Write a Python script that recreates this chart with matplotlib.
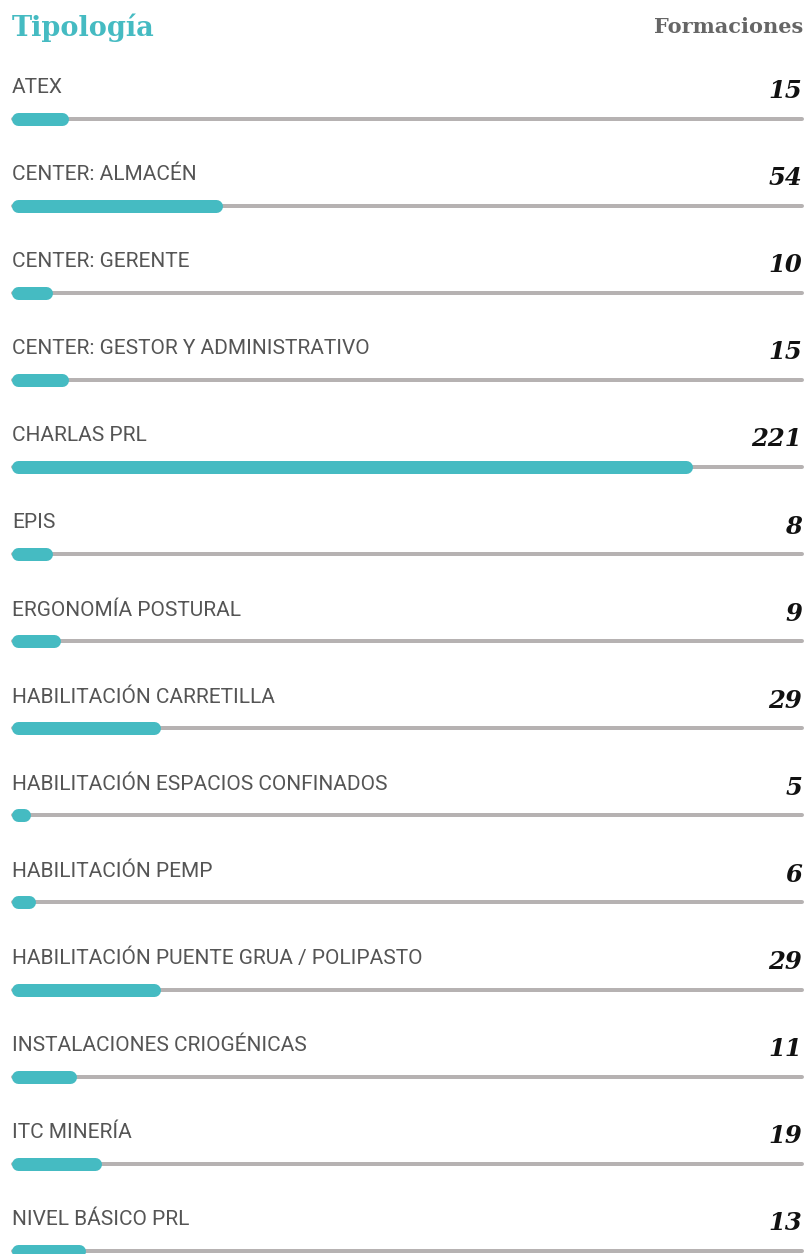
import matplotlib
matplotlib.use("Agg")
from matplotlib import pyplot as plt

# Data
categories = [
    "ATEX",
    "CENTER: ALMACÉN",
    "CENTER: GERENTE",
    "CENTER: GESTOR Y ADMINISTRATIVO",
    "CHARLAS PRL",
    "EPIS",
    "ERGONOMÍA POSTURAL",
    "HABILITACIÓN CARRETILLA",
    "HABILITACIÓN ESPACIOS CONFINADOS",
    "HABILITACIÓN PEMP",
    "HABILITACIÓN PUENTE GRUA / POLIPASTO",
    "INSTALACIONES CRIOGÉNICAS",
    "ITC MINERÍA",
    "NIVEL BÁSICO PRL",
]
formaciones = [15, 54, 10, 15, 221, 8, 9, 29, 5, 6, 29, 11, 19, 13]
# bar length as % of the track (the bars are not linear in the counts)
bar_pct = [7.2, 26.7, 5.2, 7.2, 86.0, 5.2, 6.3, 18.9, 2.5, 3.1, 18.9, 8.3, 11.4, 9.4]

teal = "#45BBC2"
track = "#B6B2B2"
label_font = ["Roboto", "DejaVu Sans"]
serif_font = ["DejaVu Serif"]

W, H = 810, 1254
fig = plt.figure(figsize=(W / 100, H / 100), dpi=100)
fig.patch.set_facecolor("white")

# axes spanning the track width, full figure height
left_px, right_px = 11, 804
row0_px, pitch_px = 118.5, 87.1
ax = fig.add_axes([left_px / W, 0, (right_px - left_px) / W, 1])
ax.set_xlim(0, 100)
ax.set_ylim((H - row0_px) / pitch_px, -row0_px / pitch_px)
ax.axis("off")

px = 100 / (right_px - left_px)   # one pixel in x units
py = 1 / pitch_px                 # one pixel in y units
bar_lw = 13 * 0.72
track_lw = 4 * 0.72

for i, (name, val, pct) in enumerate(zip(categories, formaciones, bar_pct)):
    ax.plot([2 * px, 100 - 2 * px], [i, i], color=track, lw=track_lw,
            solid_capstyle="round", zorder=1)
    ax.plot([6.5 * px, pct - 6.5 * px], [i, i], color=teal, lw=bar_lw,
            solid_capstyle="round", zorder=2)
    ax.text(1 * px, i - 25.5 * py, name, ha="left", va="baseline",
            fontsize=15, fontweight="normal", color="#555555", family=label_font)
    ax.text(100 - 2 * px, i - 20.5 * py, str(val), ha="right", va="baseline",
            fontsize=17.5, fontweight="bold", fontstyle="italic",
            color="#111111", family=serif_font)

fig.text(12 / W, 1 - 36 / H, "Tipología", ha="left", va="baseline",
         fontsize=19.5, fontweight="bold", color=teal, family=serif_font)
fig.text(803 / W, 1 - 33 / H, "Formaciones", ha="right", va="baseline",
         fontsize=15, fontweight="bold", color="#666666", family=serif_font)

fig.savefig("out.png", dpi=100)
